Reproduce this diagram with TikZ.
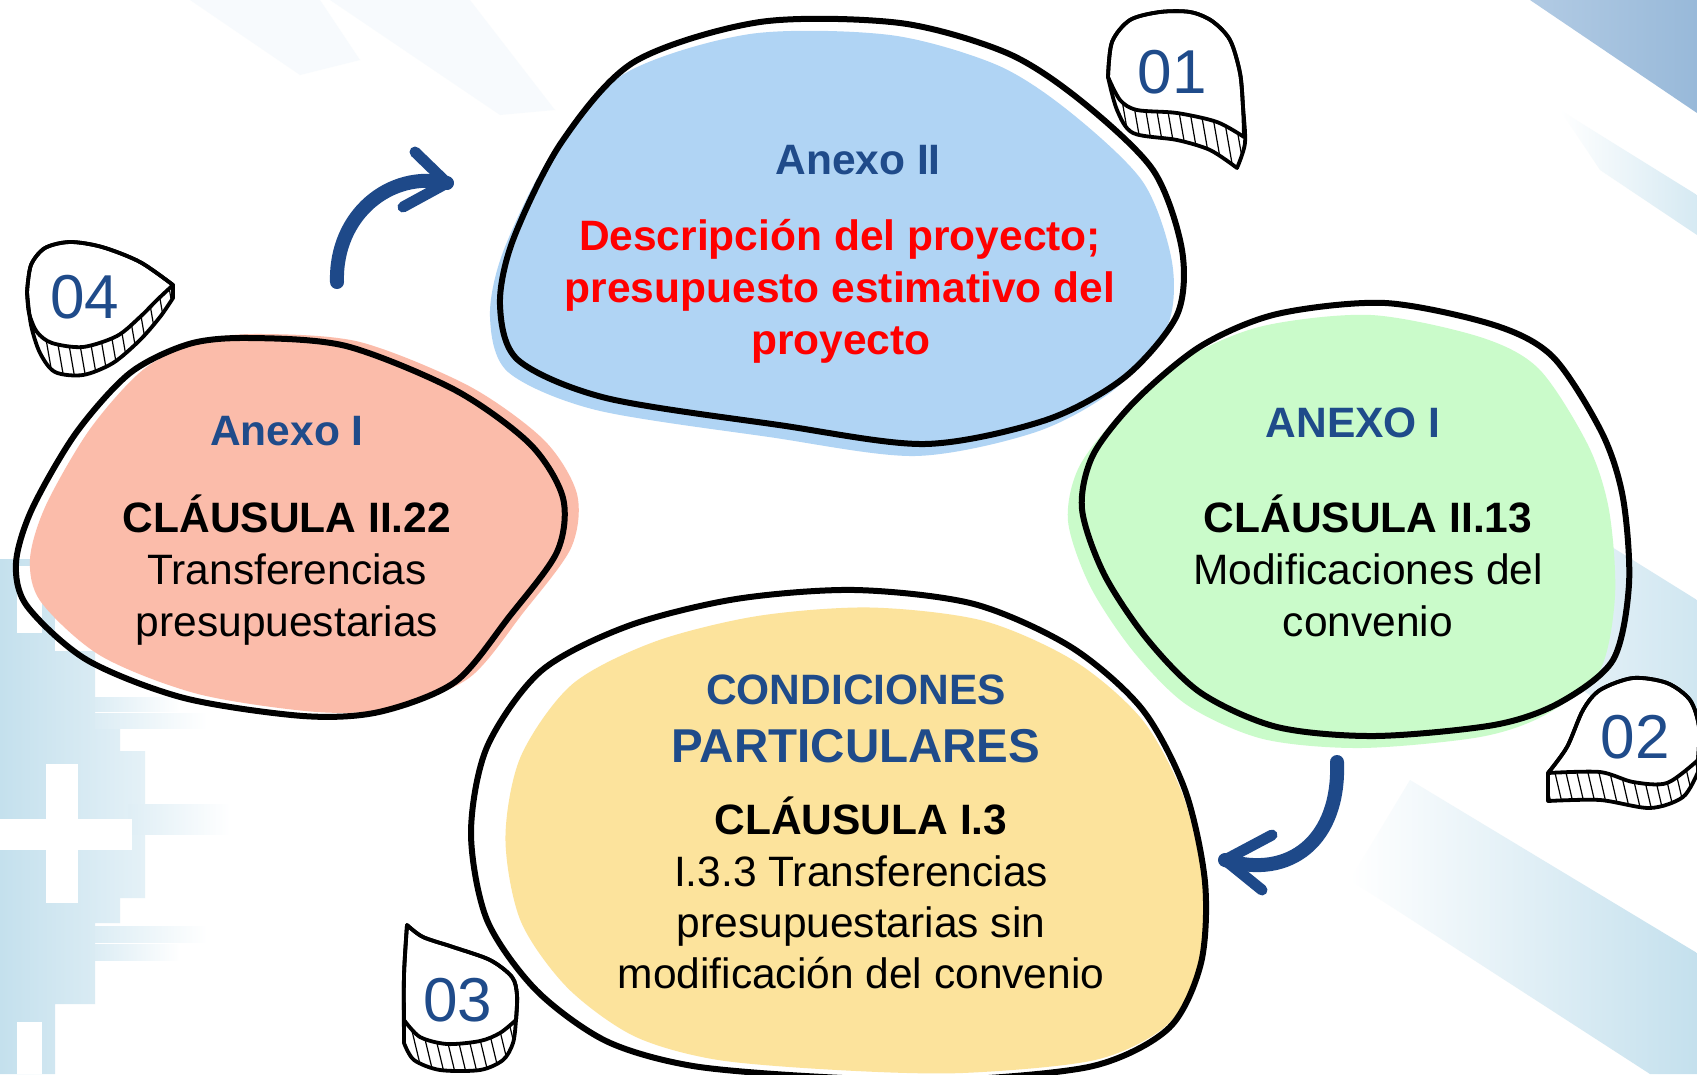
\documentclass[tikz,border=0pt]{standalone}
\usepackage{fontspec}
\setmainfont{Liberation Sans}
\definecolor{txtblue}{RGB}{31,75,138}
\definecolor{arrblue}{RGB}{30,73,137}
\definecolor{blobblue}{RGB}{176,212,244}
\definecolor{blobpink}{RGB}{251,188,170}
\definecolor{blobgreen}{RGB}{202,251,202}
\definecolor{blobyellow}{RGB}{252,227,156}
\definecolor{bgblue}{RGB}{196,224,237}
\definecolor{bgpale}{RGB}{236,244,250}
\definecolor{steel}{RGB}{152,185,217}
\definecolor{steellight}{RGB}{178,203,228}

\newcommand\blobApts{(900,23) (1007,53) (1080,100) (1153,170) (1182,250) (1177,315) (1125,377) (1046,420) (925,444) (779,425) (606,398) (518,360) (500,305) (513,240) (561,143) (634,62) (760,22)}
\newcommand\blobBpts{(189,344) (249,338) (346,346) (455,390) (530,444) (563,498) (557,552) (509,617) (455,682) (379,712) (303,716) (184,698) (87,660) (27,606) (16,563) (32,509) (76,433) (130,373)}
\newcommand\blobCpts{(1277,314) (1385,303) (1494,325) (1553,357) (1602,433) (1623,498) (1629,584) (1613,660) (1559,703) (1494,725) (1375,736) (1277,727) (1201,693) (1147,639) (1104,574) (1082,509) (1093,455) (1136,400) (1201,346)}
\newcommand\blobDpts{(855,590) (974,604) (1071,647) (1142,709) (1185,790) (1205,882) (1201,963) (1169,1028) (1093,1066) (952,1080) (823,1077) (693,1066) (606,1041) (536,990) (487,920) (471,833) (487,747) (541,671) (628,626) (736,599)}

\newcommand\faceA{plot[smooth] coordinates{(1108,77) (1112,42) (1130,20) (1160,12) (1190,12) (1212,21) (1230,40) (1240,73) (1243,107) (1244,137)} -- plot[smooth] coordinates{(1244,137) (1217,122) (1177,113) (1137,110) (1120,100) (1108,77)} -- cycle}
\newcommand\bodyA{plot[smooth] coordinates{(1108,77) (1112,42) (1130,20) (1160,12) (1190,12) (1212,21) (1230,40) (1240,73) (1243,107) (1245,143) (1237,168)} -- plot[smooth] coordinates{(1237,168) (1210,150) (1177,140) (1133,133) (1117,110) (1108,77)} -- cycle}

\newcommand\faceB{plot[smooth] coordinates{(27,292) (31,265) (45,248) (70,242) (102,247) (140,262) (173,285)} -- plot[smooth] coordinates{(173,285) (157,300) (140,317) (117,336) (83,347) (52,343) (37,332) (29,313) (27,292)} -- cycle}
\newcommand\bodyB{plot[smooth] coordinates{(27,292) (31,265) (45,248) (70,242) (102,247) (140,262) (173,285)} -- (173,298) -- plot[smooth] coordinates{(173,298) (160,317) (140,340) (113,363) (83,375) (55,372) (40,353) (31,325) (27,292)} -- cycle}

\newcommand\faceC{plot[smooth] coordinates{(1548,773) (1567,747) (1583,710) (1600,690) (1633,678) (1667,683) (1690,700) (1699,727) (1698,760)} -- plot[smooth] coordinates{(1698,760) (1667,783) (1633,782) (1600,772) (1548,773)} -- cycle}
\newcommand\bodyC{plot[smooth] coordinates{(1548,773) (1567,747) (1583,710) (1600,690) (1633,678) (1667,683) (1690,700) (1699,727) (1698,760)} -- (1698,772) -- plot[smooth] coordinates{(1698,772) (1683,797) (1650,808) (1600,800) (1548,801)} -- cycle}

\newcommand\faceD{plot[smooth] coordinates{(407,925) (423,937) (453,947) (490,960) (512,977) (517,995) (516,1020)} -- plot[smooth] coordinates{(516,1020) (500,1033) (480,1041) (447,1044) (420,1037) (404,1020)} -- plot[smooth] coordinates{(404,1020) (404,975) (407,925)} -- cycle}
\newcommand\bodyD{plot[smooth] coordinates{(407,925) (423,937) (453,947) (490,960) (512,977) (517,995) (516,1020) (513,1043) (503,1060) (480,1070) (440,1070) (414,1060) (404,1043)} -- plot[smooth] coordinates{(404,1043) (404,975) (407,925)} -- cycle}

\tikzset{
  outl/.style={draw=black, line width=6pt, line join=round},
  badge/.style={draw=black, line width=3.8pt, line join=round},
  hatch/.style={draw=black, line width=1.2pt},
  hd/.style={font=\fontsize{42.5}{50}\selectfont\bfseries, text=txtblue, anchor=base, inner sep=0pt},
  hdbig/.style={font=\fontsize{47.5}{55}\selectfont\bfseries, text=txtblue, anchor=base, inner sep=0pt},
  cl/.style={font=\fontsize{42.5}{50}\selectfont\bfseries, text=black, anchor=base, inner sep=0pt},
  rg/.style={font=\fontsize{42.5}{50}\selectfont, text=black, anchor=base, inner sep=0pt},
  rd/.style={font=\fontsize{42.5}{50}\selectfont\bfseries, text=red, anchor=base, inner sep=0pt},
  num/.style={font=\fontsize{62}{70}\selectfont, text=txtblue, inner sep=0pt},
  shaft/.style={draw=arrblue, line width=14pt, line cap=round, line join=round},
  barb/.style={draw=arrblue, line width=11pt, line cap=round, line join=round}
}

\begin{document}
\begin{tikzpicture}[x=1pt,y=-1pt]
\useasboundingbox (0,0) rectangle (1697,1074);
\fill[white] (0,0) rectangle (1697,1074);

% ---------- background ----------
\fill[bgpale, opacity=0.4] (190,0) -- (320,0) -- (360,60) -- (300,75) -- cycle;
\fill[bgpale, opacity=0.4] (330,0) -- (470,0) -- (555,110) -- (500,115) -- cycle;
\shade[left color=steellight, right color=steel] (1530,0) -- (1697,0) -- (1697,113) -- cycle;
\shade[left color=white, right color=bgblue!70] (1560,110) -- (1697,195) -- (1697,235) -- (1600,170) -- cycle;
\shade[left color=white, right color=bgblue!80] (1440,440) -- (1697,600) -- (1697,762) -- (1577,687) -- (1420,520) -- cycle;
\shade[left color=white, right color=bgblue] (1410,780) -- (1697,953) -- (1697,1074) -- (1650,1074) -- (1350,880) -- cycle;
\shade[left color=bgblue, right color=bgblue!45] (0,559) -- (95,559) -- (95,728) -- (120,728) -- (120,751) -- (145,751) -- (145,898) -- (120,898) -- (120,923) -- (95,923) -- (95,1004) -- (55,1004) -- (55,1074) -- (0,1074) -- cycle;
\shade[left color=bgblue!60, right color=white] (95,697) rectangle (180,711);
\shade[left color=bgblue!60, right color=white] (95,713) rectangle (207,728);
\shade[left color=bgblue!55, right color=white] (128,804) rectangle (230,834);
\shade[left color=bgblue!60, right color=white] (95,926) rectangle (207,942);
\shade[left color=bgblue!60, right color=white] (95,944) rectangle (180,960);
\fill[white] (17,566) rectangle (42,633);
\fill[white] (55,608) rectangle (95,651);
\fill[white] (46,764) rectangle (78,903);
\fill[white] (0,819) rectangle (132,850);
\fill[white] (17,1022) rectangle (42,1074);

% ---------- blob fills ----------
\fill[blobblue, shift={(-10,12)}] plot[smooth cycle] coordinates{\blobApts};
\fill[blobpink, shift={(14,-4)}] plot[smooth cycle] coordinates{\blobBpts};
\fill[blobgreen, shift={(-14,12)}] plot[smooth cycle] coordinates{\blobCpts};
\fill[blobyellow, shift={(15,5)}, scale around={0.95:(860,840)}] plot[smooth cycle] coordinates{\blobDpts};

% ---------- blob outlines ----------
\draw[outl] plot[smooth cycle] coordinates{\blobApts};
\draw[outl] plot[smooth cycle] coordinates{\blobBpts};
\draw[outl] plot[smooth cycle] coordinates{\blobCpts};
\draw[outl] plot[smooth cycle] coordinates{\blobDpts};

% ---------- texts ----------
\node[hd] (t1a) at (858,174) {Anexo II};
\node[rd] (t1b) at (840,250) {Descripción del proyecto;};
\node[rd] (t1c) at (840,302) {presupuesto estimativo del};
\node[rd] (t1d) at (841,354) {proyecto};

\node[hd] (t4a) at (287,445) {Anexo I};
\node[cl] (t4b) at (287,532) {CLÁUSULA II.22};
\node[rg] (t4c) at (287,584) {Transferencias};
\node[rg] (t4d) at (287,636) {presupuestarias};

\node[hd] (t2a) at (1353,437) {ANEXO I};
\node[cl] (t2b) at (1368,532) {CLÁUSULA II.13};
\node[rg] (t2c) at (1368,584) {Modificaciones del};
\node[rg] (t2d) at (1368,636) {convenio};

\node[hd] (t3a) at (856,704) {CONDICIONES};
\node[hdbig] (t3b) at (856,762) {PARTICULARES};
\node[cl] (t3c) at (861,834) {CLÁUSULA I.3};
\node[rg] (t3d) at (861,886) {I.3.3 Transferencias};
\node[rg] (t3e) at (861,937) {presupuestarias sin};
\node[rg] (t3f) at (861,988) {modificación del convenio};

% ---------- badges ----------
\fill[white] \bodyA;
\begin{scope}
  \clip \bodyA;
  \foreach \i in {0,...,18} \draw[hatch] ({1060+11*\i},60) -- ++(20,115);
\end{scope}
\fill[white] \faceA;
\draw[badge] \bodyA;
\draw[badge] \faceA;
\node[num] (n1) at (1172,72) {01};

\fill[white] \bodyB;
\begin{scope}
  \clip \bodyB;
  \foreach \i in {0,...,20} \draw[hatch] ({-10+11*\i},270) -- ++(20,115);
\end{scope}
\fill[white] \faceB;
\draw[badge] \bodyB;
\draw[badge] \faceB;
\node[num] (n4) at (85,297) {04};

\fill[white] \bodyC;
\begin{scope}
  \clip \bodyC;
  \foreach \i in {0,...,18} \draw[hatch] ({1530+11*\i},760) -- ++(14,60);
\end{scope}
\fill[white] \faceC;
\draw[badge] \bodyC;
\draw[badge] \faceC;
\node[num] (n2) at (1635,737) {02};

\fill[white] \bodyD;
\begin{scope}
  \clip \bodyD;
  \foreach \i in {0,...,15} \draw[hatch] ({385+11*\i},1010) -- ++(18,75);
\end{scope}
\fill[white] \faceD;
\draw[badge] \bodyD;
\draw[badge] \faceD;
\node[num] (n3) at (458,1000) {03};

% ---------- arrows ----------
\coordinate (a1s) at (337,282);
\coordinate (a1e) at (447,183);
\coordinate (a1u) at (415,152);
\coordinate (a1d) at (403,207);
\draw[shaft] (a1s) .. controls (335,215) and (390,170) .. (a1e);
\draw[barb] (a1u) -- (a1e) -- (a1d);

\coordinate (a2s) at (1337,762);
\coordinate (a2e) at (1225,860);
\coordinate (a2u) at (1272,835);
\coordinate (a2d) at (1262,890);
\draw[shaft] (a2s) .. controls (1340,840) and (1290,880) .. (a2e);
\draw[barb] (a2u) -- (a2e) -- (a2d);
\end{tikzpicture}
\end{document}
